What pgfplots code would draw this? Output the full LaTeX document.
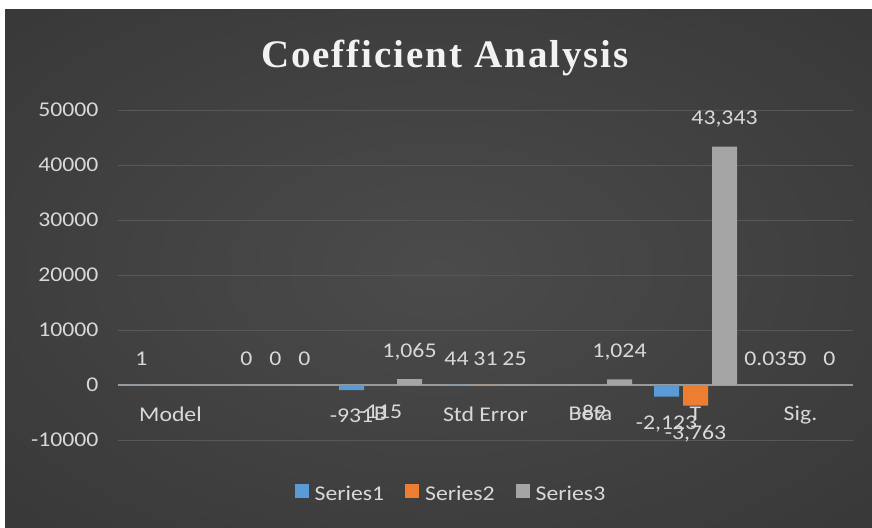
\documentclass[border=0pt]{standalone}
\usepackage{fontspec}
\setmainfont{Carlito}[FakeStretch=1.13]
\newfontfamily\titlefont{Liberation Serif}[LetterSpace=5]
\usepackage{pgfplots}
\pgfplotsset{compat=1.18}
\definecolor{sA}{HTML}{5B9BD5}
\definecolor{sB}{HTML}{ED7D31}
\definecolor{sC}{HTML}{A5A5A5}
\definecolor{txt}{HTML}{D9D9D9}
\definecolor{gridc}{HTML}{585858}
\definecolor{zeroc}{HTML}{9A9A9A}
\definecolor{bgin}{HTML}{4B4B4B}
\definecolor{bgout}{HTML}{252525}
\pgfdeclareradialshading{bgshade}{\pgfpoint{0bp}{0bp}}{color(0bp)=(bgin); color(72bp)=(bgout)}

\begin{document}
\begin{tikzpicture}[x=1pt,y=1pt]
\path[use as bounding box, fill=white] (0,0) rectangle (872,527);
\shade[shading=bgshade] (5,0) rectangle (872,517);
\node[anchor=base, text=white!95!black, font=\titlefont\bfseries\fontsize{39}{45}\selectfont] at (445,459) {Coefficient Analysis};
\begin{axis}[
  at={(118pt,87pt)}, anchor=south west,
  scale only axis, width=735pt, height=330pt,
  xmin=-0.5, xmax=6.5, ymin=-10000, ymax=50000,
  axis x line=middle, axis y line=left, axis line style={-},
  y axis line style={draw=none},
  x axis line style={draw=zeroc, line width=1.6pt},
  ytick={-10000,0,10000,20000,30000,40000,50000},
  xtick={0,1,2,3,4,5,6},
  xticklabels={Model,,B,Std Error,Beta,T,Sig.},
  ymajorgrids, grid style={draw=gridc, line width=0.8pt},
  major tick length=0pt,
  scaled y ticks=false,
  /pgf/number format/assume math mode=true,
  yticklabel={\pgfmathprintnumber[fixed,1000 sep={}]{\tick}},
  tick label style={text=txt, font=\fontsize{21}{25}\selectfont},
  yticklabel style={xshift=-16pt},
  xticklabel style={yshift=-18pt},
  ybar=4pt, bar width=25pt,
  nodes near coords={\pgfmathprintnumber[fixed,precision=3,1000 sep={,}]{\pgfplotspointmeta}},
  every node near coord/.append style={text=txt, font=\fontsize{21}{25}\selectfont, inner ysep=19pt},
  clip=false,
  legend style={at={(0.453,-0.1636)}, anchor=center, draw=none, fill=none,
    legend columns=-1, text=txt, font=\fontsize{21}{25}\selectfont,
    /tikz/every even column/.append style={column sep=19pt},
    /tikz/every odd column/.append style={column sep=4pt}},
  legend image code/.code={\fill[#1] (0pt,-4pt) rectangle (14pt,10pt);},
]
\addplot[fill=sA, draw=none] coordinates {(0,1) (1,0) (2,-931) (3,44) (5,-2123) (6,0.035)};
\addplot[fill=sB, draw=none] coordinates {(1,0) (2,-115) (3,31) (4,-89) (5,-3763) (6,0)};
\addplot[fill=sC, draw=none] coordinates {(1,0) (2,1065) (3,25) (4,1024) (5,43343) (6,0)};
\legend{Series1,Series2,Series3}
\end{axis}
\end{tikzpicture}
\end{document}
